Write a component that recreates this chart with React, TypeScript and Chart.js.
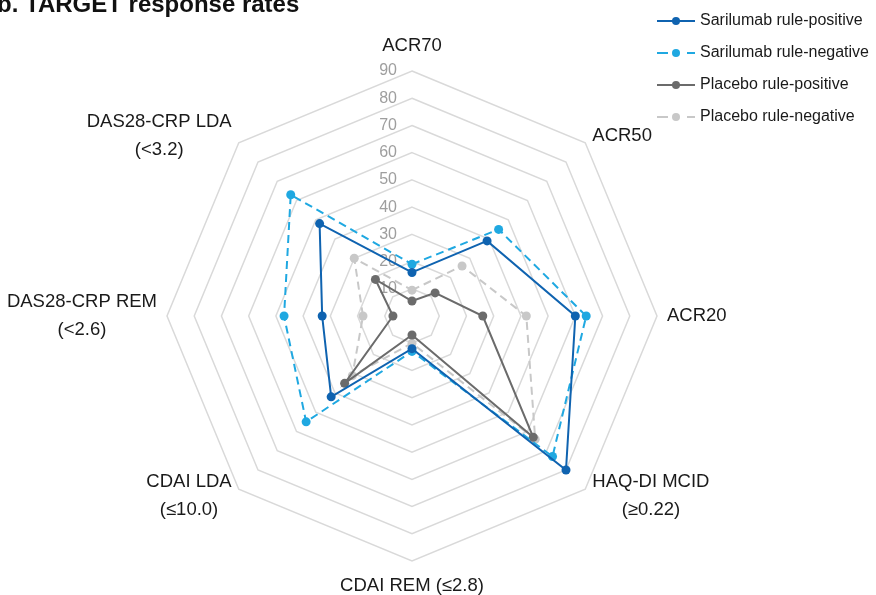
import React, { useEffect, useRef } from 'react';
import { Chart, registerables } from 'chart.js';

Chart.register(...registerables);

// ---------- data ----------
const chartTitle = 'b. TARGET response rates';
const categories: (string | string[])[] = [
  'ACR70',
  'ACR50',
  'ACR20',
  ['HAQ-DI MCID', '(≥0.22)'],
  'CDAI REM (≤2.8)',
  ['CDAI LDA', '(≤10.0)'],
  ['DAS28-CRP REM', '(<2.6)'],
  ['DAS28-CRP LDA', '(<3.2)'],
];
const seriesNames = [
  'Sarilumab rule-positive',
  'Sarilumab rule-negative',
  'Placebo rule-positive',
  'Placebo rule-negative',
];
const sarilumabPositive = [16, 39, 60, 80, 12, 42, 33, 48];
const sarilumabNegative = [19, 45, 64, 73, 13, 55, 47, 63];
const placeboPositive = [5.5, 12, 26, 63, 7, 35, 7, 19];
const placeboNegative = [9.5, 26, 42, 64, 10, 31, 18, 30];
const scaleMin = 0;
const scaleMax = 90;
const scaleStep = 10;

const FONT = "'Liberation Sans', Arial, sans-serif";

function makeSymbol(color: string, dashed: boolean): HTMLCanvasElement {
  const c = document.createElement('canvas');
  c.width = 38;
  c.height = 10;
  const g = c.getContext('2d')!;
  g.strokeStyle = color;
  g.lineWidth = 2;
  g.beginPath();
  if (dashed) {
    g.moveTo(0, 5);
    g.lineTo(11, 5);
    g.moveTo(30, 5);
    g.lineTo(38, 5);
  } else {
    g.moveTo(0, 5);
    g.lineTo(38, 5);
  }
  g.stroke();
  g.fillStyle = color;
  g.beginPath();
  g.arc(19, 5, 4, 0, Math.PI * 2);
  g.fill();
  return c;
}

export default function App() {
  const ref = useRef<HTMLCanvasElement>(null);

  useEffect(() => {
    const canvas = ref.current!;
    const colors = ['#0f63b0', '#1fa8e1', '#6b6b6b', '#c8c8c8'];
    const dashed = [false, true, false, true];
    const series = [sarilumabPositive, sarilumabNegative, placeboPositive, placeboNegative];
    const symbols = colors.map((c, i) => makeSymbol(c, dashed[i]));

    const datasets = series.map((data, i) => ({
      label: seriesNames[i],
      data,
      borderColor: colors[i],
      backgroundColor: colors[i],
      borderWidth: 2,
      borderDash: dashed[i] ? [8, 5] : [],
      pointRadius: 4.5,
      pointBorderWidth: 0,
      pointBackgroundColor: colors[i],
      pointBorderColor: colors[i],
      fill: false,
      tension: 0,
    }));

    const decor = {
      id: 'decor',
      afterLayout(chart: any) {
        const lg = chart.legend;
        if (lg) {
          lg.left = 644;
          lg.right = 876;
          lg.width = 232;
          lg.top = -3;
          lg.bottom = 595;
          lg.height = 598;
        }
      },
      beforeDatasetsDraw(chart: any) {
        const r = chart.scales.r;
        const ctx = chart.ctx;
        ctx.save();
        ctx.font = `16px ${FONT}`;
        ctx.fillStyle = '#9e9e9e';
        ctx.textAlign = 'right';
        ctx.textBaseline = 'middle';
        r.ticks.forEach((t: any) => {
          if (t.value === scaleMin) return;
          const d = r.getDistanceFromCenterForValue(t.value);
          ctx.fillText(String(t.value), r.xCenter - 15, r.yCenter - d);
        });
        ctx.restore();
      },
      afterDraw(chart: any) {
        const r = chart.scales.r;
        const ctx = chart.ctx;
        ctx.save();
        const fs = 18.5;
        const lh = 28;
        ctx.font = `${fs}px ${FONT}`;
        ctx.fillStyle = '#1a1a1a';
        ctx.textBaseline = 'middle';
        ctx.textAlign = 'center';
        (chart.data.labels as any[]).forEach((lab, i) => {
          const lines: string[] = Array.isArray(lab) ? lab : [lab];
          const base = r.getPointPosition(i, r.drawingArea);
          const dx = base.x - r.xCenter;
          const dy = base.y - r.yCenter;
          const vertical = Math.abs(dx) < 1;
          const pad = vertical ? 16 : 10;
          const p = r.getPointPosition(i, r.drawingArea + pad);
          const bw = Math.max(...lines.map((l) => ctx.measureText(l).width));
          const bh = (lines.length - 1) * lh + fs;
          let cx: number;
          if (vertical) cx = p.x;
          else if (dx > 0) cx = p.x + bw / 2;
          else cx = p.x - bw / 2;
          let top: number;
          if (vertical && dy < 0) top = p.y - bh;
          else if (vertical) top = p.y;
          else top = p.y - bh / 2;
          lines.forEach((l, k) => ctx.fillText(l, cx, top + fs / 2 + k * lh));
        });
        // title
        ctx.font = `bold 24px ${FONT}`;
        ctx.fillStyle = '#111111';
        ctx.textAlign = 'left';
        ctx.textBaseline = 'alphabetic';
        ctx.fillText(chartTitle, -3, 11.5);
        ctx.restore();
      },
    };

    const chart = new Chart(canvas, {
      type: 'radar',
      data: { labels: categories as any, datasets: datasets as any },
      options: {
        animation: false,
        responsive: false,
        devicePixelRatio: 1,
        layout: { padding: { left: 167, right: 0, top: 71, bottom: 34 } },
        scales: {
          r: {
            min: scaleMin,
            max: scaleMax,
            ticks: { stepSize: scaleStep, display: false },
            grid: { circular: false, color: '#d9d9d9', lineWidth: 1.5 },
            angleLines: { display: false },
            pointLabels: { display: false },
          },
        },
        plugins: {
          legend: {
            position: 'right',
            align: 'start',
            maxWidth: 219,
            labels: {
              usePointStyle: true,
              pointStyleWidth: 32,
              padding: 16,
              color: '#1a1a1a',
              font: { family: FONT, size: 16 },
              generateLabels: (ch: any) =>
                ch.data.datasets.map((ds: any, i: number) => ({
                  text: ds.label,
                  pointStyle: symbols[i],
                  fillStyle: colors[i],
                  strokeStyle: colors[i],
                  lineWidth: 0,
                  hidden: false,
                  datasetIndex: i,
                  fontColor: '#1a1a1a',
                })),
            },
          },
          tooltip: { enabled: false },
          title: { display: false },
        },
      } as any,
      plugins: [decor],
    });
    return () => chart.destroy();
  }, []);

  return (
    <div style={{ position: 'fixed', left: 0, top: 0, width: 876, height: 595, background: '#fff' }}>
      <canvas ref={ref} width={876} height={595} style={{ display: 'block' }} />
    </div>
  );
}
